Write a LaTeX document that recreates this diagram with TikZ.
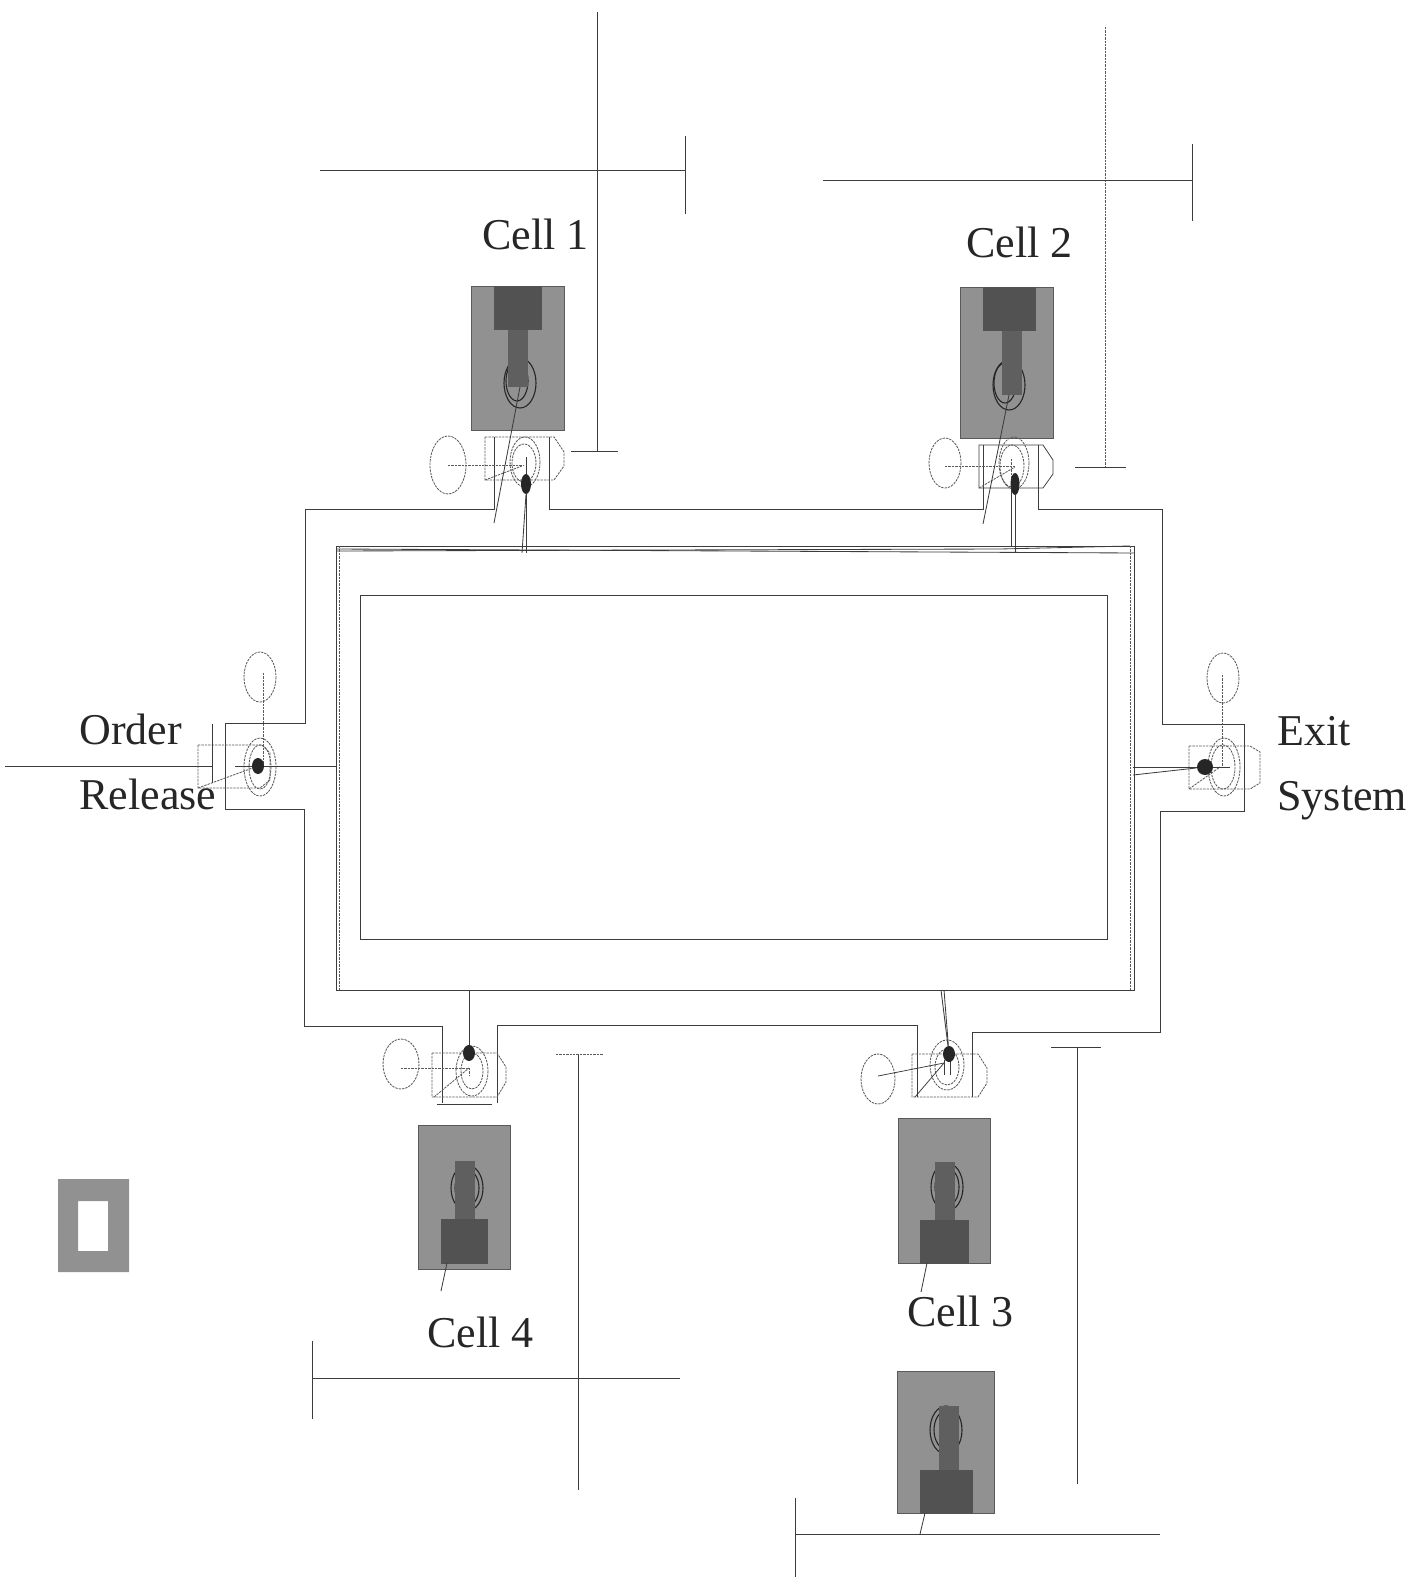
\documentclass[tikz,border=0pt]{standalone}
\usepackage{xcolor}
\usepackage{fontspec}
\setmainfont{Liberation Serif}
\usetikzlibrary{shapes,positioning,calc}
\definecolor{CellGray}{RGB}{145, 145, 145}
\definecolor{BlockGray}{RGB}{82, 82, 82}
\definecolor{StemGray}{RGB}{95, 95, 95}
\definecolor{WallInk}{RGB}{60, 60, 60}
\definecolor{FaintInk}{RGB}{90, 90, 90}

\begin{document}
\begin{tikzpicture}[x=0.5pt, y=-0.5pt]
  \tikzstyle{wall} = [draw=WallInk, line width=0.42pt]
  \tikzstyle{faint} = [draw=FaintInk, line width=0.42pt, dash pattern=on 1.2pt off 0.5pt]
  \tikzstyle{crossline} = [draw=WallInk, line width=0.38pt]
  \tikzstyle{cellfill} = [fill=CellGray, draw=FaintInk, line width=0.4pt]
  \tikzstyle{blockfill} = [fill=BlockGray, draw=BlockGray, line width=0.2pt]
  \tikzstyle{stemfill} = [fill=StemGray, draw=StemGray, line width=0.2pt]
  \tikzstyle{ring} = [draw=black!85, line width=0.55pt]
  \tikzstyle{spot} = [ellipse, fill=black!85, inner sep=0pt, minimum width=5pt, minimum height=10pt]
  \tikzstyle{celllabel} = [font=\fontsize{22pt}{24pt}\selectfont, inner sep=0pt, anchor=base west, text=black!85]

  \useasboundingbox (0,0) rectangle (1409,1577);

  % carrier ring
  \draw [wall] (494,437) -- (494,509) -- (305,509) -- (305,723) -- (225,723) -- (225,809) -- (304,809) -- (304,1026) -- (442,1026) -- (442,1103);
  \draw [wall] (497,1103) -- (497,1025) -- (917,1025) -- (917,1097);
  \draw [wall] (972,1097) -- (972,1032) -- (1160,1032) -- (1160,811) -- (1244,811) -- (1244,724) -- (1162,724) -- (1162,509) -- (1038,509) -- (1038,445);
  \draw [wall] (983,445) -- (983,509) -- (549,509) -- (549,437);
  \draw [wall] (437,1104) -- (492,1104);
  \draw [wall] (336,546) -- (1134,546) -- (1134,990) -- (336,990) -- cycle;
  \draw [wall] (336,549) -- (1134,553);
  \draw [wall] (336,551) -- (1000,549) -- (1130,546);
  \draw [faint] (339,546) -- (339,990);
  \draw [faint] (1130,546) -- (1130,990);
  \draw [crossline] (360,595) rectangle (1107,939);
  \coordinate (ringa) at (526,553);
  \coordinate (ringb) at (1015,553);
  \coordinate (ringc) at (944,990);
  \coordinate (ringd) at (469,990);
  \coordinate (ringe) at (336,766);
  \coordinate (ringf) at (1133,767);

  % cells
  \draw [cellfill] (471,286) rectangle (564,430);
  \draw [ring] (520,383) ellipse (16 and 25);
  \draw [ring] (517,381) ellipse (11 and 20);
  \draw [stemfill] (508,329) rectangle (527,386);
  \draw [blockfill] (494,286) rectangle (541,329);

  \draw [cellfill] (960,287) rectangle (1053,438);
  \draw [ring] (1009,385) ellipse (16 and 25);
  \draw [ring] (1005,383) ellipse (11 and 20);
  \draw [stemfill] (1002,330) rectangle (1021,394);
  \draw [blockfill] (983,287) rectangle (1035,330);

  \draw [cellfill] (898,1118) rectangle (990,1263);
  \draw [ring] (947,1187) ellipse (16 and 24);
  \draw [ring] (947,1187) ellipse (12 and 19);
  \draw [stemfill] (935,1162) rectangle (954,1220);
  \draw [blockfill] (920,1220) rectangle (968,1263);

  \draw [cellfill] (418,1125) rectangle (510,1269);
  \draw [ring] (467,1188) ellipse (16 and 23);
  \draw [ring] (467,1188) ellipse (12 and 18);
  \draw [stemfill] (455,1161) rectangle (474,1219);
  \draw [blockfill] (441,1219) rectangle (487,1263);

  \draw [cellfill] (897,1371) rectangle (994,1513);
  \draw [ring] (946,1430) ellipse (16 and 24);
  \draw [ring] (946,1430) ellipse (12 and 19);
  \draw [stemfill] (939,1406) rectangle (958,1470);
  \draw [blockfill] (920,1470) rectangle (972,1513);

  \fill [CellGray, even odd rule] (58,1179) rectangle (129,1272) (78,1201) rectangle (108,1251);

  % transfer stations
  \draw [faint] (485,437) -- (554,437) -- (564,452) -- (564,466) -- (554,480) -- (485,480) -- cycle;
  \draw [faint] (448,465) ellipse (18 and 29);
  \draw [faint] (525,462) ellipse (15 and 25);
  \draw [faint] (524,463) ellipse (12 and 19);
  \draw [faint] (448,465) -- (523,465);
  \draw [faint] (485,480) -- (522,466);
  \draw [wall] (526,457) -- (526,480);

  \draw [crossline] (979,445) -- (1043,445) -- (1053,460) -- (1053,474) -- (1043,488) -- (979,488) -- cycle;
  \draw [faint] (945,463) ellipse (16 and 25);
  \draw [faint] (1014,463) ellipse (15 and 26);
  \draw [faint] (1012,466) ellipse (12 and 21);
  \draw [faint] (945,466) -- (1015,466);
  \draw [faint] (979,488) -- (1015,467);
  \draw [faint] (1011,459) -- (1011,488);

  \draw [faint] (198,745) -- (262,745) -- (270,753) -- (270,780) -- (260,788) -- (198,788) -- cycle;
  \draw [faint] (260,767) ellipse (16 and 29);
  \draw [faint] (260,767) ellipse (11 and 22);
  \draw [faint] (260,677) ellipse (16 and 25);
  \draw [faint] (263,673) -- (263,765);
  \draw [faint] (198,788) -- (258,766);
  \draw [wall] (212,724) -- (212,783);

  \draw [faint] (1189,746) -- (1250,746) -- (1260,752) -- (1260,783) -- (1250,789) -- (1189,789) -- cycle;
  \draw [faint] (1224,767) ellipse (16 and 29);
  \draw [faint] (1223,767) ellipse (12 and 22);
  \draw [faint] (1223,678) ellipse (16 and 25);
  \draw [faint] (1222,675) -- (1222,767);
  \draw [faint] (1189,789) -- (1220,767);

  \draw [faint] (912,1054) -- (978,1054) -- (987,1068) -- (987,1083) -- (978,1097) -- (912,1097) -- cycle;
  \draw [faint] (947,1065) ellipse (17 and 25);
  \draw [faint] (947,1067) ellipse (12 and 18);
  \draw [faint] (878,1079) ellipse (17 and 25);
  \draw [crossline] (878,1076) -- (944,1063);
  \draw [crossline] (915,1097) -- (944,1063);
  \draw [crossline] (944,1060) -- (944,1075);
  \draw [crossline] (950,1060) -- (950,1075);

  \draw [faint] (432,1053) -- (497,1053) -- (506,1067) -- (506,1082) -- (497,1097) -- (432,1097) -- cycle;
  \draw [faint] (472,1071) ellipse (16 and 25);
  \draw [faint] (472,1071) ellipse (11 and 18);
  \draw [faint] (401,1064) ellipse (18 and 25);
  \draw [faint] (401,1068) -- (470,1068);
  \draw [faint] (434,1097) -- (469,1068);
  \draw [faint] (469,1068) -- (469,1075);

  % spots and their links
  \node [spot] (spota) at (526,484) {};
  \node [spot, minimum height=11pt, minimum width=4.5pt] (spotb) at (1015,484) {};
  \node [spot, minimum height=8pt, minimum width=6pt] (spotc) at (949,1054) {};
  \node [spot, minimum height=8pt, minimum width=6pt] (spotd) at (469,1053) {};
  \node [spot, minimum height=8pt, minimum width=6pt] (spote) at (258,766) {};
  \node [spot, minimum height=8pt, minimum width=8pt] (spotf) at (1205,767) {};
  \draw [wall] (spota) -- (ringa);
  \draw [wall] (spota.south) -- (522,553);
  \draw [wall] (spotb) -- (ringb);
  \draw [wall] (1011,490) -- (1011,546);
  \draw [wall] (spotc) -- (ringc);
  \draw [wall] (spotc) -- (941,990);
  \draw [wall] (spotd) -- (ringd);
  \draw [wall] (spote) -- (ringe);
  \draw [wall] (235,766) -- (spote);
  \draw [crossline] (5,766) -- (212,766);
  \draw [wall] (ringf) -- (spotf);
  \draw [wall] (1133,775) -- (spotf);
  \draw [wall] (spotf) -- (1230,767);

  % pointers
  \draw [wall] (520,387) -- (494,523);
  \draw [wall] (1009,395) -- (983,524);
  \draw [wall] (447,1263) -- (441,1291);
  \draw [wall] (927,1263) -- (921,1292);
  \draw [wall] (925,1513) -- (920,1534);

  % crosses
  \draw [crossline] (597,12) -- (597,451);
  \draw [crossline] (571,451) -- (618,451);
  \draw [crossline] (320,170) -- (685,170);
  \draw [crossline] (685,136) -- (685,214);
  \draw [faint] (1105,27) -- (1105,467);
  \draw [crossline] (1075,467) -- (1126,467);
  \draw [crossline] (823,180) -- (1192,180);
  \draw [crossline] (1192,144) -- (1192,221);
  \draw [crossline] (578,1054) -- (578,1490);
  \draw [faint] (556,1054) -- (603,1054);
  \draw [crossline] (312,1378) -- (680,1378);
  \draw [crossline] (312,1341) -- (312,1419);
  \draw [crossline] (1077,1047) -- (1077,1484);
  \draw [crossline] (1051,1047) -- (1101,1047);
  \draw [crossline] (795,1534) -- (1160,1534);
  \draw [crossline] (795,1498) -- (795,1577);

  % labels
  \node [celllabel] (cell1) at (482,250) {Cell 1};
  \node [celllabel] (cell2) at (966,258) {Cell 2};
  \node [celllabel] (cell3) at (907,1326) {Cell 3};
  \node [celllabel] (cell4) at (427,1347) {Cell 4};
  \node [celllabel] (order) at (79,744) {Order};
  \node [celllabel] (release) at (79,809) {Release};
  \node [celllabel] (exit) at (1277,745) {Exit};
  \node [celllabel] (system) at (1277,810) {System};
\end{tikzpicture}
\end{document}
